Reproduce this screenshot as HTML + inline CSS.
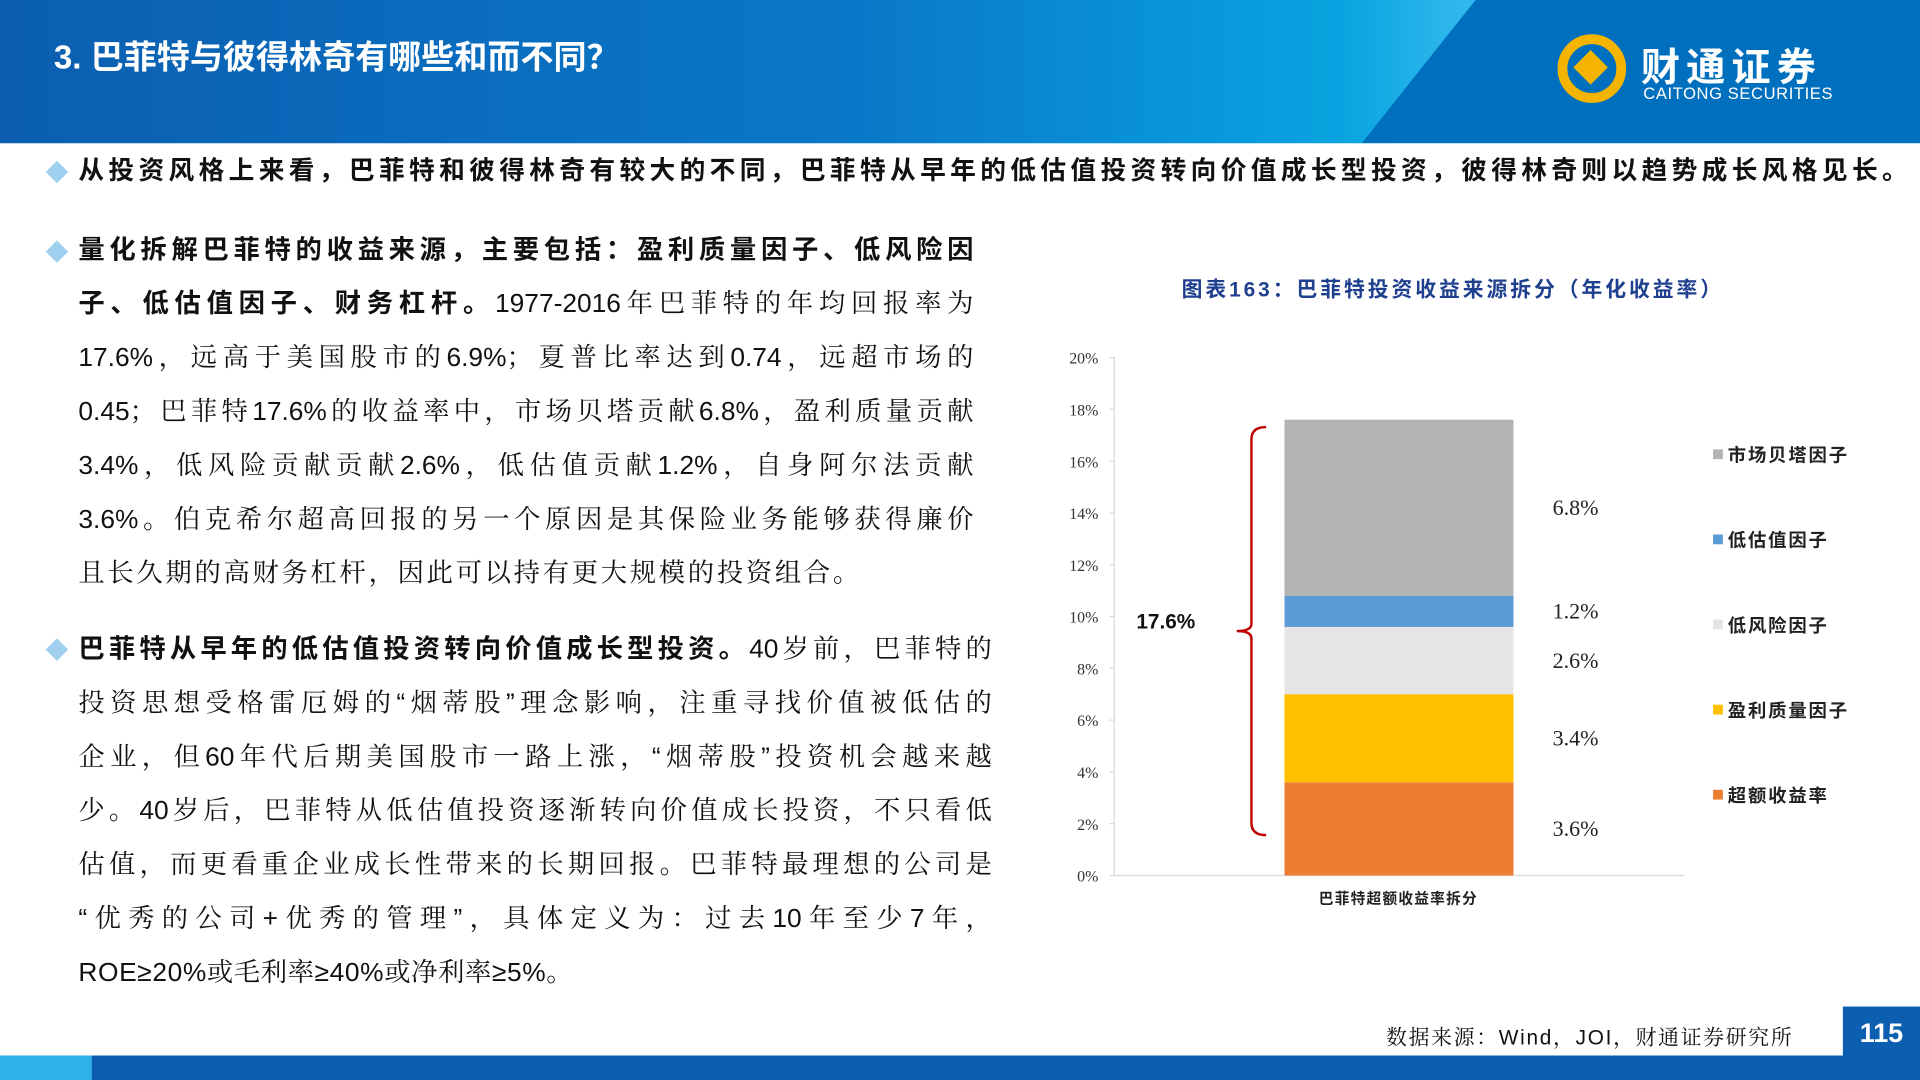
<!DOCTYPE html>
<html><head><meta charset="utf-8">
<style>
html,body{margin:0;padding:0;width:1920px;height:1080px;overflow:hidden;background:#fff}
#wrap{position:absolute;left:0;top:0;width:1568px;height:882px;transform:scale(1.22449);transform-origin:0 0;font-family:"Liberation Sans","Noto Serif CJK SC",serif;color:#111}
.abs{position:absolute}
.ln{position:absolute;font-size:21.5px;line-height:30px;height:30px;white-space:nowrap;text-align:justify;text-align-last:justify;font-family:"Liberation Sans","Noto Serif CJK SC",serif}
.ln.last{text-align:left;text-align-last:left;letter-spacing:2.2px}
.b{font-weight:bold;font-family:"Liberation Sans","Noto Sans CJK SC",sans-serif}
.dia{position:absolute;width:13px;height:13px;background:#9fd0f0;transform:rotate(45deg)}
</style></head><body>
<div id="wrap">
<div class="abs" style="left:0;top:0;width:1568px;height:117px;background:linear-gradient(90deg,#0b5eb0 0%,#0a78c8 45%,#08a4e0 70%,#30b8ec 76%)"></div>
<div class="abs" style="left:0;top:0;width:1568px;height:117px;background:#0070be;clip-path:polygon(1205px 0,1568px 0,1568px 117px,1112px 117px)"></div>
<div class="abs" style="left:44px;top:25px;font-size:27px;color:#fff;font-family:'Liberation Sans','Noto Sans CJK SC',sans-serif;font-weight:bold">3. 巴菲特与彼得林奇有哪些和而不同？</div>
<div class="abs" style="left:1272px;top:28px;width:56px;height:56px;border:8px solid #f5b400;border-radius:50%;box-sizing:border-box"></div>
<div class="abs" style="left:1289px;top:45px;width:20px;height:20px;background:#f5b400;transform:rotate(45deg)"></div>
<div class="abs b" style="left:1340px;top:30px;font-size:32px;color:#fff;letter-spacing:5px">财通证券</div>
<div class="abs" style="left:1342px;top:69px;font-size:13.5px;color:#fff;font-family:'Liberation Sans',sans-serif;letter-spacing:0.5px">CAITONG SECURITIES</div>

<div class="dia" style="left:40px;top:134px"></div>
<div class="abs b" style="left:64px;top:124px;font-size:21px;line-height:32px;white-space:nowrap;letter-spacing:3.55px">从投资风格上来看，巴菲特和彼得林奇有较大的不同，巴菲特从早年的低估值投资转向价值成长型投资，彼得林奇则以趋势成长风格见长。</div>

<div class="dia" style="left:40px;top:199px"></div>
<div>
<div class="ln b" style="left:64px;top:189px;width:731px">量化拆解巴菲特的收益来源，主要包括：盈利质量因子、低风险因</div>
<div class="ln" style="left:64px;top:233px;width:731px"><span class="b">子、低估值因子、财务杠杆。</span>1977-2016年巴菲特的年均回报率为</div>
<div class="ln" style="left:64px;top:277px;width:731px">17.6%，远高于美国股市的6.9%；夏普比率达到0.74，远超市场的</div>
<div class="ln" style="left:64px;top:321px;width:731px">0.45；巴菲特17.6%的收益率中，市场贝塔贡献6.8%，盈利质量贡献</div>
<div class="ln" style="left:64px;top:365px;width:731px">3.4%，低风险贡献贡献2.6%，低估值贡献1.2%，自身阿尔法贡献</div>
<div class="ln" style="left:64px;top:409px;width:731px">3.6%。伯克希尔超高回报的另一个原因是其保险业务能够获得廉价</div>
<div class="ln last" style="left:64px;top:453px">且长久期的高财务杠杆，因此可以持有更大规模的投资组合。</div>
</div>

<div class="dia" style="left:40px;top:524px"></div>
<div>
<div class="ln" style="left:64px;top:515px;width:746px"><span class="b">巴菲特从早年的低估值投资转向价值成长型投资。</span>40岁前，巴菲特的</div>
<div class="ln" style="left:64px;top:559px;width:746px">投资思想受格雷厄姆的“烟蒂股”理念影响，注重寻找价值被低估的</div>
<div class="ln" style="left:64px;top:603px;width:746px">企业，但60年代后期美国股市一路上涨，“烟蒂股”投资机会越来越</div>
<div class="ln" style="left:64px;top:647px;width:746px">少。40岁后，巴菲特从低估值投资逐渐转向价值成长投资，不只看低</div>
<div class="ln" style="left:64px;top:691px;width:746px">估值，而更看重企业成长性带来的长期回报。巴菲特最理想的公司是</div>
<div class="ln" style="left:64px;top:735px;width:746px">“优秀的公司+优秀的管理”，具体定义为：过去10年至少7年，</div>
<div class="ln last" style="left:64px;top:779px;letter-spacing:0.5px">ROE≥20%或毛利率≥40%或净利率≥5%。</div>
</div>

<div class="abs b" style="left:965px;top:222px;font-size:17px;color:#1f3f8f;letter-spacing:2.4px">图表163：巴菲特投资收益来源拆分（年化收益率）</div>
<svg class="abs" style="left:0;top:0" width="1568" height="882" id="chart"></svg>

<div class="abs" style="left:1132px;top:833px;font-size:17px;letter-spacing:1.4px">数据来源：Wind，JOI，财通证券研究所</div>
<div class="abs" style="left:0;top:862px;width:1568px;height:20px;background:#0b5eb0"></div>
<div class="abs" style="left:0;top:862px;width:75px;height:20px;background:#30b0e8"></div>
<div class="abs b" style="left:1505px;top:822px;width:63px;height:40px;background:#0b5eb0;color:#fff;font-size:22px;text-align:center;line-height:44px">115</div>
</div>
<script>
const categories=["超额收益率","盈利质量因子","低风险因子","低估值因子","市场贝塔因子"];
const values=[3.6,3.4,2.6,1.2,6.8];
const valueLabels=["3.6%","3.4%","2.6%","1.2%","6.8%"];
const colors=["#ed7d31","#ffc000","#e5e5e5","#5b9bd5","#b3b3b3"];
const ticks=[0,2,4,6,8,10,12,14,16,18,20];
const totalLabel="17.6%";
const ns="http://www.w3.org/2000/svg";
const svg=document.getElementById('chart');
const y0=715,pp=21.15;
const y=v=>y0-v*pp;
function mk(t,a,txt){const e=document.createElementNS(ns,t);for(const k in a)e.setAttribute(k,a[k]);if(txt!==undefined)e.textContent=txt;svg.appendChild(e);return e;}
let ax=mk('line',{x1:910,y1:y(20),x2:910,y2:y0,stroke:'#d9d9d9'});

let bx=mk('line',{x1:910,y1:y0,x2:1375,y2:y0,stroke:'#d9d9d9'});

ticks.forEach(t=>{
 let l=mk('text',{x:897,y:y(t)+5,'text-anchor':'end','font-size':13,'font-family':'Liberation Serif',fill:'#333'},t+'%');
 
 mk('line',{x1:906,y1:y(t),x2:910,y2:y(t),stroke:'#d9d9d9'});
});
let cum=0;
values.forEach((v,i)=>{
 let r=mk('rect',{x:1049,y:y(cum+v),width:187,height:v*pp,fill:colors[i]});
 
 let ly=y(cum+v/2)+6;
 let t=mk('text',{x:1268,y:ly,'font-size':18,'font-family':'Liberation Serif',fill:'#222'},valueLabels[i]);
 
 cum+=v;
});
const total=values.reduce((a,b)=>a+b,0);
const yt=y(total)+6,yb=y0-33,ym=(yt+yb)/2;
let br=mk('path',{d:`M1034,${yt} Q1022,${yt} 1022,${yt+10} L1022,${ym-6} Q1022,${ym} 1010,${ym} Q1022,${ym} 1022,${ym+6} L1022,${yb-10} Q1022,${yb} 1034,${yb}`,fill:'none',stroke:'#c00000','stroke-width':2});

let tl=mk('text',{x:928,y:ym-2,'font-size':17,'font-weight':'bold','font-family':'Liberation Sans',fill:'#111'},totalLabel);

let xl=mk('text',{x:1142,y:738,'text-anchor':'middle','font-size':12,'font-weight':'bold','letter-spacing':1,'font-family':'Liberation Sans,Noto Sans CJK SC',fill:'#222'},'巴菲特超额收益率拆分');

for(let i=4;i>=0;i--){
 const k=4-i, ly=372+k*69.5;
 let s=mk('rect',{x:1399,y:ly-5,width:8,height:8,fill:colors[i]});
 
 let t=mk('text',{x:1411,y:ly+5,'font-size':15,'font-weight':'bold','letter-spacing':1.5,'font-family':'Liberation Sans,Noto Sans CJK SC',fill:'#222'},categories[i]);
 
}
</script>
</body></html>
